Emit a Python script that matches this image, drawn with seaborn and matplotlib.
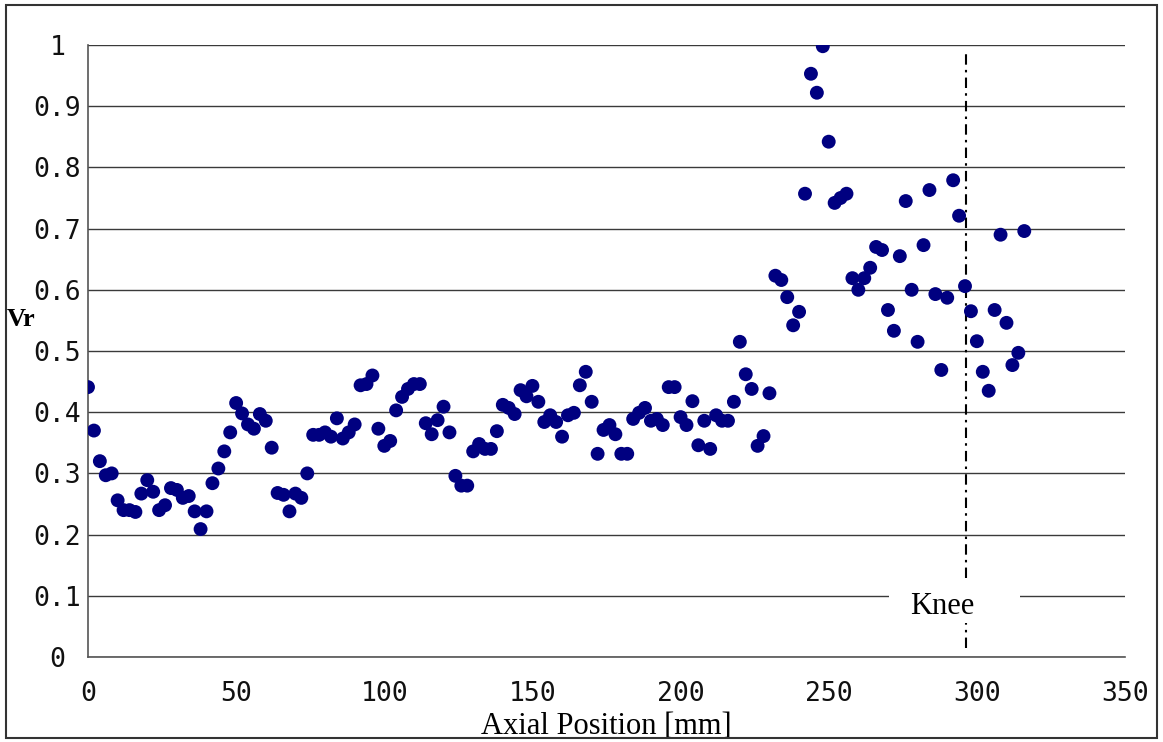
import numpy as np
import pandas as pd
import matplotlib
matplotlib.use("Agg")
import matplotlib.pyplot as plt
from matplotlib.patches import Rectangle
import seaborn as sns

axial_mm = [0, 2, 4, 6, 8, 10, 12, 14, 16, 18,
            20, 22, 24, 26, 28, 30, 32, 34, 36, 38,
            40, 42, 44, 46, 48, 50, 52, 54, 56, 58,
            60, 62, 64, 66, 68, 70, 72, 74, 76, 78,
            80, 82, 84, 86, 88, 90, 92, 94, 96, 98,
            100, 102, 104, 106, 108, 110, 112, 114, 116, 118,
            120, 122, 124, 126, 128, 130, 132, 134, 136, 138,
            140, 142, 144, 146, 148, 150, 152, 154, 156, 158,
            160, 162, 164, 166, 168, 170, 172, 174, 176, 178,
            180, 182, 184, 186, 188, 190, 192, 194, 196, 198,
            200, 202, 204, 206, 208, 210, 212, 214, 216, 218,
            220, 222, 224, 226, 228, 230, 232, 234, 236, 238,
            240, 242, 244, 246, 248, 250, 252, 254, 256, 258,
            260, 262, 264, 266, 268, 270, 272, 274, 276, 278,
            280, 282, 284, 286, 288, 290, 292, 294, 296, 298,
            300, 302, 304, 306, 308, 310, 312, 314, 316]

vr = [0.441, 0.370, 0.320, 0.297, 0.300, 0.256, 0.240, 0.240, 0.237, 0.267,
      0.289, 0.270, 0.240, 0.248, 0.276, 0.273, 0.260, 0.263, 0.238, 0.209,
      0.238, 0.284, 0.308, 0.336, 0.367, 0.415, 0.398, 0.380, 0.373, 0.397,
      0.386, 0.342, 0.268, 0.265, 0.238, 0.267, 0.260, 0.300, 0.363, 0.363,
      0.367, 0.360, 0.390, 0.357, 0.367, 0.380, 0.444, 0.446, 0.460, 0.373,
      0.345, 0.353, 0.403, 0.425, 0.438, 0.446, 0.446, 0.382, 0.364, 0.387,
      0.409, 0.367, 0.296, 0.280, 0.280, 0.336, 0.348, 0.340, 0.340, 0.369,
      0.412, 0.407, 0.397, 0.436, 0.426, 0.443, 0.417, 0.384, 0.395, 0.384,
      0.360, 0.395, 0.399, 0.444, 0.466, 0.417, 0.332, 0.371, 0.379, 0.364,
      0.332, 0.332, 0.389, 0.399, 0.407, 0.386, 0.389, 0.379, 0.441, 0.441,
      0.392, 0.379, 0.418, 0.346, 0.386, 0.340, 0.395, 0.386, 0.386, 0.417,
      0.515, 0.462, 0.438, 0.345, 0.361, 0.431, 0.623, 0.616, 0.588, 0.542,
      0.564, 0.757, 0.953, 0.922, 0.998, 0.842, 0.742, 0.750, 0.757, 0.619,
      0.600, 0.619, 0.636, 0.670, 0.665, 0.567, 0.533, 0.655, 0.745, 0.600,
      0.515, 0.673, 0.763, 0.593, 0.469, 0.587, 0.779, 0.721, 0.606, 0.565,
      0.516, 0.466, 0.435, 0.567, 0.690, 0.546, 0.477, 0.497, 0.696]

xticks = [0, 50, 100, 150, 200, 250, 300, 350]
yticks = [0, 0.1, 0.2, 0.3, 0.4, 0.5, 0.6, 0.7, 0.8, 0.9, 1.0]
ytick_labels = ["0", "0.1", "0.2", "0.3", "0.4", "0.5", "0.6", "0.7", "0.8", "0.9", "1"]

knee_x = 296.3
knee_label = "Knee"


def main():
    df = pd.DataFrame({"Axial Position [mm]": axial_mm, "Vr": vr})

    sns.set_style("white")
    plt.rcParams["font.family"] = ["DejaVu Sans Mono", "DejaVu Sans"]
    serif = ["Liberation Serif", "DejaVu Serif"]

    fig = plt.figure(figsize=(11.63, 7.42), dpi=100)
    ax = fig.add_axes([88 / 1163, 85 / 742, 1037 / 1163, 612 / 742])

    sns.scatterplot(data=df, x="Axial Position [mm]", y="Vr", ax=ax,
                    color="#000080", s=100, edgecolor="none", zorder=3,
                    legend=False)

    ax.set_xlim(0, 350)
    ax.set_ylim(0, 1)
    ax.set_xticks(xticks)
    ax.set_yticks(yticks)
    ax.set_yticklabels(ytick_labels)

    # horizontal gridlines only
    ax.yaxis.grid(True, color="#3a3a3a", lw=1)
    ax.xaxis.grid(False)
    ax.set_axisbelow(True)

    for side in ["top", "right"]:
        ax.spines[side].set_visible(False)
    for side in ["left", "bottom"]:
        ax.spines[side].set_color("#555555")
        ax.spines[side].set_linewidth(1.2)

    ax.tick_params(axis="x", direction="in", length=9, width=1,
                   color="#333333", labelsize=19, pad=17, labelcolor="#111111")
    ax.tick_params(axis="y", length=0, labelsize=19, pad=22, labelcolor="#111111")
    plt.setp(ax.get_yticklabels(), ha="center")

    ax.set_xlabel("Axial Position [mm]", fontsize=22, family=serif,
                  labelpad=4, color="black")
    ax.set_ylabel("")
    fig.text(7 / 1163, 1 - 319 / 742, "Vr", fontsize=19, fontweight="bold",
             family=serif, va="center", ha="left", color="black")

    # knee marker
    ax.axvline(knee_x, ymin=0.015, ymax=0.985, color="black", lw=1.5,
               linestyle=(0, (5, 2.5, 1.2, 2.5)), zorder=2)
    ax.add_patch(Rectangle((270.3, 0.056), 44.2, 0.073, facecolor="white",
                           edgecolor="none", zorder=2.5))
    ax.text(277.4, 0.106, knee_label, fontsize=22, ha="left", va="top",
            family=serif, color="black", zorder=4)

    # outer frame
    fig.patches.append(Rectangle((6 / 1163, 4 / 742), 1151 / 1163, 733 / 742,
                                 transform=fig.transFigure, fill=False,
                                 edgecolor="#333333", lw=1.5))

    fig.savefig("out.png", dpi=100)
    plt.close(fig)


if __name__ == "__main__":
    main()
